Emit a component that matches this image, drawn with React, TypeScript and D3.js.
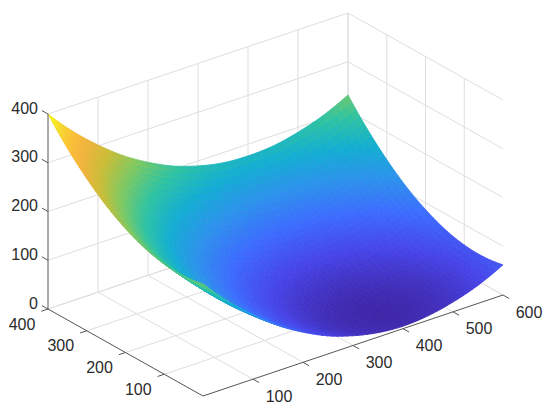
import { useEffect, useRef } from 'react'
import * as d3 from 'd3'

// sample positions of the surface grid
const xGrid = [0, 50, 100, 150, 200, 250, 300, 350, 400, 450, 500, 550, 600]
const yGrid = [0, 50, 100, 150, 200, 250, 300, 350, 400]

// surface height, one row per y value
const zY0 = [230, 177, 132, 93, 62, 37, 20, 9, 5, 9, 20, 37, 62]
const zY50 = [224, 172, 126, 88, 56, 32, 14, 4, 0, 4, 14, 32, 56]
const zY100 = [226, 174, 128, 90, 58, 34, 16, 6, 2, 6, 16, 34, 58]
const zY150 = [236, 184, 138, 100, 68, 44, 26, 16, 12, 16, 26, 44, 68]
const zY200 = [254, 201, 156, 117, 86, 61, 44, 33, 30, 33, 44, 61, 86]
const zY250 = [279, 226, 181, 142, 111, 86, 69, 58, 55, 58, 69, 86, 111]
const zY300 = [312, 259, 214, 175, 144, 119, 102, 91, 88, 91, 102, 119, 144]
const zY350 = [352, 299, 254, 215, 184, 159, 142, 131, 128, 131, 142, 159, 184]
const zY400 = [400, 347, 302, 263, 232, 207, 190, 179, 176, 179, 190, 207, 232]
const zRows = [zY0, zY50, zY100, zY150, zY200, zY250, zY300, zY350, zY400]

const xTicks = [100, 200, 300, 400, 500, 600]
const yTicks = [100, 200, 300, 400]
const zTicks = [0, 100, 200, 300, 400]

// parula colormap
const parulaStops = [0, 0.1, 0.2, 0.3, 0.4, 0.5, 0.6, 0.7, 0.8, 0.86, 0.93, 1]
const parulaColors = ['#3e26a8', '#4744e8', '#3d6cfe', '#2d92ec', '#13aed2', '#2fc3a2', '#7dc963', '#c8bd37', '#f2b33c', '#fbbd38', '#f5d92c', '#f9fb15']

const catmull = (p0: number, p1: number, p2: number, p3: number, t: number) =>
  0.5 * (2 * p1 + (-p0 + p2) * t + (2 * p0 - 5 * p1 + 4 * p2 - p3) * t * t + (-p0 + 3 * p1 - 3 * p2 + p3) * t * t * t)

// add one ghost value at each end so the spline reaches the edges
const extend = (a: number[]) => {
  const n = a.length
  return [3 * a[0] - 3 * a[1] + a[2], ...a, 3 * a[n - 1] - 3 * a[n - 2] + a[n - 3]]
}

export default function App() {
  const svgRef = useRef<SVGSVGElement>(null)

  useEffect(() => {
    if (!svgRef.current) return
    const svg = d3.select(svgRef.current)
    svg.selectAll('*').remove()

    // box projection (normalized box -> screen)
    const origin = [203, 396]
    const ex = [300, -101]
    const ey = [-155, -87]
    const ez = [0, -195]

    const xScale = d3.scaleLinear().domain([0, 600]).range([0, 1])
    const yScale = d3.scaleLinear().domain([0, 400]).range([0, 1])
    const zScale = d3.scaleLinear().domain([0, 400]).range([0, 1])

    const project = (x: number, y: number, z: number): [number, number] => {
      const u = xScale(x), v = yScale(y), w = zScale(z)
      return [origin[0] + u * ex[0] + v * ey[0] + w * ez[0], origin[1] + u * ex[1] + v * ey[1] + w * ez[1]]
    }
    // direction towards the viewer (null vector of the projection)
    const view = [
      -(ey[0] * ez[1] - ez[0] * ey[1]),
      -(ez[0] * ex[1] - ex[0] * ez[1]),
      -(ex[0] * ey[1] - ey[0] * ex[1]),
    ]
    const depth = (x: number, y: number, z: number) =>
      view[0] * xScale(x) + view[1] * yScale(y) + view[2] * zScale(z)

    const gridColor = '#dedede'
    const axisColor = '#555'
    const textColor = '#2b2b2b'
    const font = 'Liberation Sans, Arial, Helvetica, sans-serif'

    const line = (a: [number, number], b: [number, number], stroke: string, width = 1) =>
      svg.append('line')
        .attr('x1', a[0]).attr('y1', a[1]).attr('x2', b[0]).attr('y2', b[1])
        .attr('stroke', stroke).attr('stroke-width', width)

    // grid on back walls and floor
    const [x0, x1] = xScale.domain()
    const [y0, y1] = yScale.domain()
    const [z0, z1] = zScale.domain()
    xTicks.forEach(t => {
      line(project(t, y1, z0), project(t, y1, z1), gridColor)
      line(project(t, y0, z0), project(t, y1, z0), gridColor)
    })
    yTicks.forEach(t => {
      line(project(x1, t, z0), project(x1, t, z1), gridColor)
      line(project(x0, t, z0), project(x1, t, z0), gridColor)
    })
    zTicks.forEach(t => {
      line(project(x0, y1, t), project(x1, y1, t), gridColor)
      line(project(x1, y0, t), project(x1, y1, t), gridColor)
    })

    // smooth surface through the read grid
    const nx = xGrid.length, ny = yGrid.length
    const rowsX = zRows.map(r => extend(r))
    const extRows: number[][] = []
    for (let c = 0; c < nx + 2; c++) {
      extend(rowsX.map(r => r[c])).forEach((v, j) => {
        if (!extRows[j]) extRows[j] = []
        extRows[j][c] = v
      })
    }
    const sample = (u: number, v: number) => {
      const i = Math.min(Math.floor(u), nx - 2), t = u - i
      const j = Math.min(Math.floor(v), ny - 2), s = v - j
      const col = [0, 1, 2, 3].map(k => {
        const r = extRows[j + k]
        return catmull(r[i], r[i + 1], r[i + 2], r[i + 3], t)
      })
      return catmull(col[0], col[1], col[2], col[3], s)
    }
    const xIndex = d3.scaleLinear().domain(d3.range(nx)).range(xGrid)
    const yIndex = d3.scaleLinear().domain(d3.range(ny)).range(yGrid)

    const zExtent = d3.extent(zRows.flat()) as [number, number]
    const color = d3.scaleLinear<string>()
      .domain(parulaStops.map(s => zExtent[0] + s * (zExtent[1] - zExtent[0])))
      .range(parulaColors)
      .interpolate(d3.interpolateRgb)
      .clamp(true)

    const S = 5
    const U = (nx - 1) * S + 1, V = (ny - 1) * S + 1
    const pts: { p: [number, number]; z: number; x: number; y: number }[][] = []
    for (let a = 0; a < U; a++) {
      pts[a] = []
      for (let b = 0; b < V; b++) {
        const u = a / S, v = b / S
        const x = xIndex(u), y = yIndex(v), z = sample(u, v)
        pts[a][b] = { p: project(x, y, z), z, x, y }
      }
    }
    const quads: { d: string; fill: string; depth: number }[] = []
    for (let a = 0; a < U - 1; a++) {
      for (let b = 0; b < V - 1; b++) {
        const c = [pts[a][b], pts[a + 1][b], pts[a + 1][b + 1], pts[a][b + 1]]
        const zm = d3.mean(c, q => q.z) as number
        const xm = d3.mean(c, q => q.x) as number
        const ym = d3.mean(c, q => q.y) as number
        quads.push({
          d: 'M' + c.map(q => q.p.join(',')).join('L') + 'Z',
          fill: color(zm),
          depth: depth(xm, ym, zm),
        })
      }
    }
    quads.sort((m, n) => m.depth - n.depth)
    svg.append('g')
      .selectAll('path')
      .data(quads)
      .join('path')
      .attr('d', q => q.d)
      .attr('fill', q => q.fill)
      .attr('stroke', q => q.fill)
      .attr('stroke-width', 0.8)
      .attr('stroke-linejoin', 'round')

    // axes
    line(project(x0, y0, z0), project(x1, y0, z0), axisColor)
    line(project(x0, y0, z0), project(x0, y1, z0), axisColor)
    line(project(x0, y1, z0), project(x0, y1, z1), axisColor)

    const tickLen = 7
    const unit = (v: number[]) => {
      const l = Math.hypot(v[0], v[1])
      return [v[0] / l, v[1] / l]
    }
    const dxOut = unit([-ey[0], -ey[1]])
    const dyOut = unit([-ex[0], -ex[1]])
    const dzOut = unit([ey[0], ey[1]])

    const label = (p: [number, number], text: string, anchor: string) =>
      svg.append('text')
        .attr('x', p[0]).attr('y', p[1])
        .attr('text-anchor', anchor)
        .attr('dominant-baseline', 'central')
        .attr('font-family', font)
        .attr('font-size', 16)
        .attr('fill', textColor)
        .text(text)

    xTicks.forEach(t => {
      const p = project(t, y0, z0)
      line(p, [p[0] + dxOut[0] * tickLen, p[1] + dxOut[1] * tickLen], axisColor)
      label([p[0] + 26, p[1] + 17], String(t), 'middle')
    })
    yTicks.forEach(t => {
      const p = project(x0, t, z0)
      line(p, [p[0] + dyOut[0] * tickLen, p[1] + dyOut[1] * tickLen], axisColor)
      label([p[0] - 26, p[1] + 15], String(t), 'middle')
    })
    zTicks.forEach(t => {
      const p = project(x0, y1, t)
      line(p, [p[0] + dzOut[0] * tickLen, p[1] + dzOut[1] * tickLen], axisColor)
      label([p[0] - 10, p[1] - 6], String(t), 'end')
    })
  }, [])

  return (
    <svg
      ref={svgRef}
      width={550}
      height={411}
      style={{ position: 'absolute', left: 0, top: 0, background: '#fff' }}
    />
  )
}
